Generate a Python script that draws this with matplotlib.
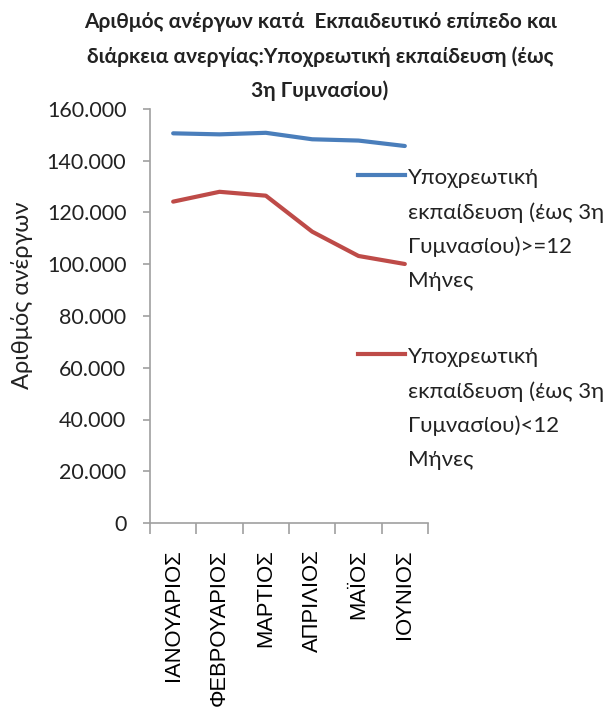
import matplotlib
matplotlib.use("Agg")
import matplotlib.pyplot as plt
from matplotlib.lines import Line2D
import numpy as np

plt.rcParams["font.family"] = ["Lato", "Noto Sans", "DejaVu Sans"]

months = ["ΙΑΝΟΥΑΡΙΟΣ", "ΦΕΒΡΟΥΑΡΙΟΣ", "ΜΑΡΤΙΟΣ", "ΑΠΡΙΛΙΟΣ", "ΜΑΪΟΣ", "ΙΟΥΝΙΟΣ"]
over_12 = [150600, 150200, 150800, 148300, 147800, 145700]
under_12 = [124200, 128000, 126500, 112600, 103200, 100100]

label_over = "Υποχρεωτική\nεκπαίδευση (έως 3η\nΓυμνασίου)>=12\nΜήνες"
label_under = "Υποχρεωτική\nεκπαίδευση (έως 3η\nΓυμνασίου)<12\nΜήνες"
title = ("Αριθμός ανέργων κατά  Εκπαιδευτικό επίπεδο και\n"
         "διάρκεια ανεργίας:Υποχρεωτική εκπαίδευση (έως\n"
         "3η Γυμνασίου)")

blue = "#4a7ebb"
red = "#be4b48"
axis_grey = "#a0a0a0"
text_col = "#222222"

W, H = 607, 713
fig = plt.figure(figsize=(W / 100, H / 100), dpi=100)
ax = fig.add_axes([150 / W, 1 - 523 / H, 278 / W, 414 / H])

x = np.arange(len(months))
ax.plot(x, over_12, color=blue, linewidth=3.0, solid_capstyle="round")
ax.plot(x, under_12, color=red, linewidth=3.0, solid_capstyle="round")

ax.set_xlim(-0.5, len(months) - 0.5)
ax.set_ylim(0, 160000)
yt = np.arange(0, 160001, 20000)
ax.set_yticks(yt)
ax.set_yticklabels(["0" if v == 0 else f"{v:,}".replace(",", ".") for v in yt], fontsize=15.5)

# category ticks sit between the months, labels at the month centres
ax.set_xticks(np.arange(-0.5, len(months), 1.0))
ax.set_xticklabels([])
ax.set_xticks(x, minor=True)
ax.set_xticklabels(months, minor=True, rotation=90, va="top", ha="center",
                   fontsize=15.8, family=["Liberation Sans", "DejaVu Sans"])
ax.tick_params(axis="x", which="minor", length=0, pad=19)
ax.tick_params(axis="x", which="major", length=8, color=axis_grey, width=1.2)
ax.tick_params(axis="y", length=5, color=axis_grey, width=1.2, pad=12, labelcolor=text_col)

for side in ("top", "right"):
    ax.spines[side].set_visible(False)
for side in ("left", "bottom"):
    ax.spines[side].set_color(axis_grey)
    ax.spines[side].set_linewidth(1.2)

ax.set_ylabel("Αριθμός ανέργων", fontsize=17, color=text_col)
ax.yaxis.set_label_coords(-0.42, 0.55)
fig.suptitle(title, x=320 / W, y=0.983, fontsize=15, fontweight="bold",
             linespacing=1.85, color=text_col)

# legend entries: sample line next to the first line of each wrapped label
for color, label, y_line, y_top in [(blue, label_over, 175, 168), (red, label_under, 354, 347)]:
    fig.add_artist(Line2D([358 / W, 405 / W], [1 - y_line / H] * 2, color=color,
                          linewidth=3.0, transform=fig.transFigure))
    fig.text(408 / W, 1 - y_top / H, label, fontsize=16, va="top", ha="left",
             linespacing=1.84, color=text_col)

fig.savefig("out.png", dpi=100)
